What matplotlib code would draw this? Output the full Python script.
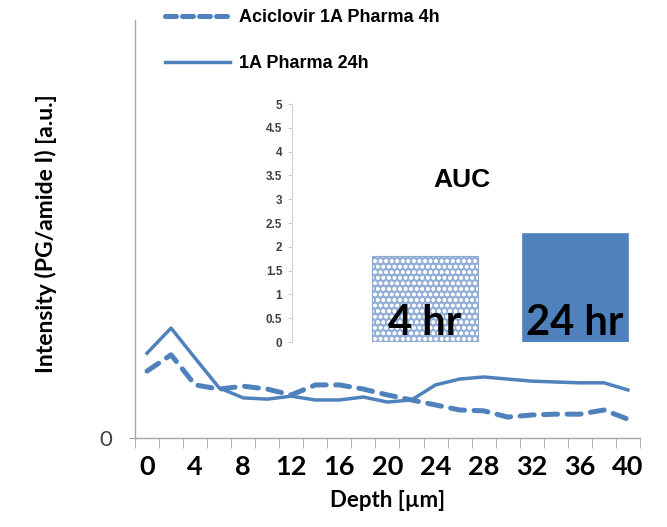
import numpy as np
import matplotlib
matplotlib.use('Agg')
import matplotlib.pyplot as plt
from matplotlib.lines import Line2D

# Depth profile (arbitrary units)
depth = np.arange(0, 41, 2)
pharma_4h = [0.160, 0.199, 0.127, 0.117, 0.124, 0.117, 0.103, 0.127, 0.127, 0.117, 0.103,
             0.091, 0.079, 0.067, 0.065, 0.050, 0.055, 0.057, 0.057, 0.067, 0.045]
pharma_24h = [0.203, 0.263, 0.191, 0.120, 0.096, 0.093, 0.100, 0.091, 0.091, 0.098, 0.086,
              0.091, 0.127, 0.141, 0.146, 0.141, 0.136, 0.134, 0.132, 0.132, 0.115]

# AUC inset
auc_labels = ['4 hr', '24 hr']
auc_values = [1.8, 2.3]
auc_ticks = [0, 0.5, 1, 1.5, 2, 2.5, 3, 3.5, 4, 4.5, 5]

blue = '#4F81BD'
spine = '#a6a6a6'
calibri = ['Lato', 'DejaVu Sans']
arial = ['Liberation Sans', 'DejaVu Sans']

fig = plt.figure(figsize=(6.67, 5.27), dpi=100)
ax = fig.add_axes([0.2024, 0.1689, 0.757, 0.793])

ax.plot(depth, pharma_4h, color=blue, lw=3.6, linestyle=(0, (2.8, 1.9)),
        dash_capstyle='round', solid_joinstyle='round')
ax.plot(depth, pharma_24h, color=blue, lw=2.5, solid_joinstyle='round')

ax.set_xlim(-1, 41)
ax.set_ylim(0, 1)
ax.set_xticks(np.arange(0, 41, 4))
ax.set_xticks(np.arange(-1, 42, 2), minor=True)
ax.tick_params(axis='x', which='major', length=0, pad=12)
ax.tick_params(axis='x', which='minor', length=7, color=spine, direction='out')
for lab in ax.get_xticklabels():
    lab.set_family(calibri)
    lab.set_fontweight('bold')
    lab.set_fontsize(19.5)
ax.set_yticks([0])
ax.set_yticklabels(['0'], family=calibri, fontsize=16, color='#404040')
ax.tick_params(axis='y', length=9, color=spine, direction='inout', pad=12)
for s in ['top', 'right']:
    ax.spines[s].set_visible(False)
for s in ['left', 'bottom']:
    ax.spines[s].set_color(spine)
    ax.spines[s].set_linewidth(1)

ax.set_xlabel('Depth [µm]', family=calibri, fontweight='bold', fontsize=16, labelpad=8)
ax.set_ylabel('Intensity (PG/amide I) [a.u.]', family=calibri, fontweight='bold',
              fontsize=16.5)
ax.yaxis.set_label_coords(-0.155, 0.49)

# legend above the plot
handles = [Line2D([], [], color=blue, lw=3.6, linestyle=(0, (2.2, 1.2)), dash_capstyle='round'),
           Line2D([], [], color=blue, lw=2.5)]
fig.legend(handles, ['Aciclovir 1A Pharma 4h', '1A Pharma 24h'], loc='upper left',
           bbox_to_anchor=(0.247, 0.982), frameon=False, borderpad=0, borderaxespad=0,
           handlelength=3.6, handletextpad=0.5, labelspacing=1.6,
           prop={'family': arial, 'weight': 'bold', 'size': 13})

# AUC inset
ins = fig.add_axes([0.4378, 0.351, 0.5217, 0.4516])
ins.patch.set_visible(False)
xpos = [1, 2]
ins.bar(xpos[0], auc_values[0], width=0.707, color='#93afd8', edgecolor='white',
        hatch='ooo', linewidth=0)
ins.bar(xpos[0], auc_values[0], width=0.707, fill=False, edgecolor='#8eaad3', linewidth=0.8)
ins.bar(xpos[1], auc_values[1], width=0.707, color=blue, edgecolor='#6f97c9', linewidth=0.8)
for x, lab in zip(xpos, auc_labels):
    ins.text(x, 0.40, lab, ha='center', va='center', family=calibri, fontweight='bold',
             fontsize=30, color='black')
ins.text(1.246, 3.4, 'AUC', ha='center', va='center', family=arial, fontweight='bold',
         fontsize=19)
ins.set_xlim(0.113, 2.433)
ins.set_ylim(0, 5)
ins.set_yticks(auc_ticks)
ins.set_yticklabels([f'{t:g}' for t in auc_ticks], family=arial, fontweight='bold',
                    fontsize=8.5, color='#404040')
ins.tick_params(axis='y', length=3, color='#d0d0d0', pad=4)
ins.set_xticks([])
for s in ['top', 'right', 'bottom']:
    ins.spines[s].set_visible(False)
ins.spines['left'].set_color('#d0d0d0')

fig.savefig('out.png', dpi=100)
